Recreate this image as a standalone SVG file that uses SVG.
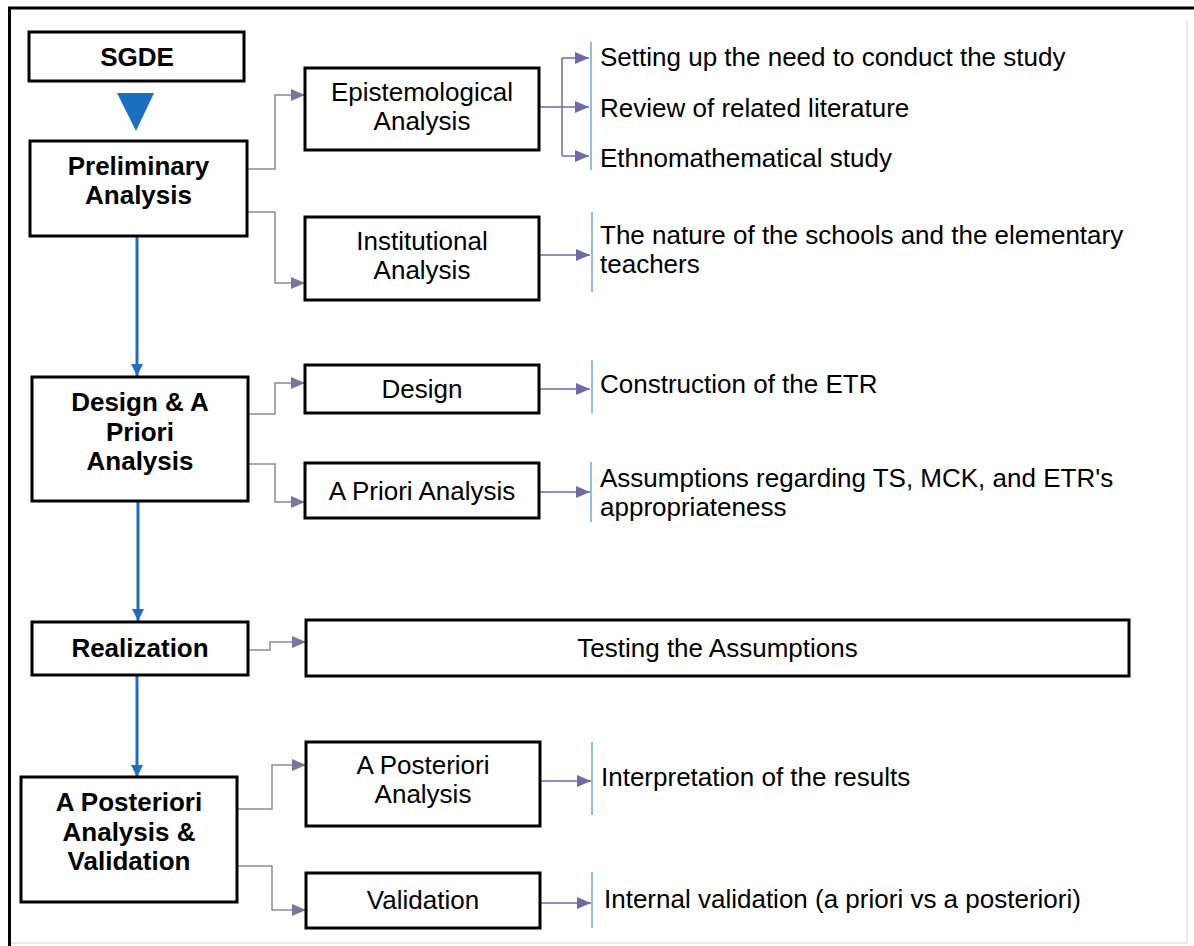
<svg xmlns="http://www.w3.org/2000/svg" width="1194" height="946" viewBox="0 0 1194 946">
<style>
.box{fill:#fff;stroke:#000;stroke-width:3}
.b{font-family:"Liberation Sans",Arial,sans-serif;font-weight:bold;font-size:26px;fill:#000;text-anchor:middle}
.n{font-family:"Liberation Sans",Arial,sans-serif;font-size:26px;fill:#000;text-anchor:middle}
.t{font-family:"Liberation Sans",Arial,sans-serif;font-size:26px;fill:#000}
.g{fill:none;stroke:#8c8c8c;stroke-width:1.5}
.p{fill:none;stroke:#6f6aa6;stroke-width:1.5}
.bl{fill:none;stroke:#1f6fbd;stroke-width:3}
.vl{stroke:#5a9ad6;stroke-width:1.3}
</style>
<defs>
<marker id="ag" viewBox="0 0 14 12" refX="14" refY="6" markerWidth="14" markerHeight="12" markerUnits="userSpaceOnUse" orient="auto"><path d="M0,0 L14,6 L0,12 z" fill="#7a7699"/></marker>
<marker id="ap" viewBox="0 0 14 12" refX="14" refY="6" markerWidth="14" markerHeight="12" markerUnits="userSpaceOnUse" orient="auto"><path d="M0,0 L14,6 L0,12 z" fill="#6f6aa6"/></marker>
<marker id="ab" viewBox="0 0 12 12" refX="12" refY="6" markerWidth="12" markerHeight="12" markerUnits="userSpaceOnUse" orient="auto"><path d="M0,0 L12,6 L0,12 z" fill="#1f6fbd"/></marker>
</defs>
<rect width="1194" height="946" fill="#fff"/>
<g id="frame">
<line x1="8" y1="8" x2="1194" y2="8" stroke="#000" stroke-width="3"/>
<line x1="9.5" y1="7" x2="9.5" y2="946" stroke="#000" stroke-width="3"/>
<line x1="1187" y1="20" x2="1187" y2="943" stroke="#e2e2e2" stroke-width="1.5"/>
<line x1="11" y1="943" x2="1187" y2="943" stroke="#e2e2e2" stroke-width="1.5"/>
</g>
<g id="connectors">
<polygon points="117,93 154,93 136,131" fill="#1a6fc0"/>
<path class="bl" d="M137,236 V376" marker-end="url(#ab)"/>
<path class="bl" d="M138,501 V621" marker-end="url(#ab)"/>
<path class="bl" d="M137,675 V777" marker-end="url(#ab)"/>
<path class="g" d="M247,169 H275 V95 H305" marker-end="url(#ag)"/>
<path class="g" d="M247,212 H275 V283 H305" marker-end="url(#ag)"/>
<path class="g" d="M248,414 H275 V383 H305" marker-end="url(#ag)"/>
<path class="g" d="M248,464 H275 V502 H305" marker-end="url(#ag)"/>
<path class="g" d="M248,650 H270 V642 H306" marker-end="url(#ag)"/>
<path class="g" d="M237,809 H272 V765 H306" marker-end="url(#ag)"/>
<path class="g" d="M237,866 H272 V910 H306" marker-end="url(#ag)"/>
<path class="p" d="M539,107 H562 M562,58 V156"/>
<path class="p" d="M562,58 H589" marker-end="url(#ap)"/>
<path class="p" d="M562,107 H589" marker-end="url(#ap)"/>
<path class="p" d="M562,156 H589" marker-end="url(#ap)"/>
<path class="p" d="M539,255 H590" marker-end="url(#ap)"/>
<path class="p" d="M539,389 H590" marker-end="url(#ap)"/>
<path class="p" d="M539,492 H590" marker-end="url(#ap)"/>
<path class="p" d="M541,781 H591" marker-end="url(#ap)"/>
<path class="p" d="M541,903 H591" marker-end="url(#ap)"/>
<line class="vl" x1="591" y1="42" x2="591" y2="170"/>
<line class="vl" x1="592" y1="212" x2="592" y2="292"/>
<line class="vl" x1="592" y1="360" x2="592" y2="413"/>
<line class="vl" x1="591" y1="462" x2="591" y2="522"/>
<line class="vl" x1="592" y1="742" x2="592" y2="815"/>
<line class="vl" x1="592" y1="872" x2="592" y2="928"/>
</g>
<g id="sgde"><rect class="box" x="29" y="32" width="215" height="49"/><text class="b" x="137" y="66">SGDE</text></g>
<g id="preliminary"><rect class="box" x="30" y="141" width="217" height="95"/><text class="b" x="138.5" y="175">Preliminary</text><text class="b" x="138.5" y="204">Analysis</text></g>
<g id="design-apriori"><rect class="box" x="32" y="377" width="216" height="124"/><text class="b" x="140" y="411">Design &amp; A</text><text class="b" x="140" y="441">Priori</text><text class="b" x="140" y="470">Analysis</text></g>
<g id="realization"><rect class="box" x="32" y="622" width="216" height="53"/><text class="b" x="140" y="657">Realization</text></g>
<g id="aposteriori-validation"><rect class="box" x="21" y="777" width="216" height="125"/><text class="b" x="129" y="811">A Posteriori</text><text class="b" x="129" y="841">Analysis &amp;</text><text class="b" x="129" y="870">Validation</text></g>
<g id="epistemological"><rect class="box" x="305" y="68" width="234" height="82"/><text class="n" x="422" y="101">Epistemological</text><text class="n" x="422" y="130">Analysis</text></g>
<g id="institutional"><rect class="box" x="305" y="217" width="234" height="83"/><text class="n" x="422" y="250">Institutional</text><text class="n" x="422" y="279">Analysis</text></g>
<g id="design"><rect class="box" x="305" y="365" width="234" height="48"/><text class="n" x="422" y="398">Design</text></g>
<g id="apriori"><rect class="box" x="305" y="463" width="234" height="55"/><text class="n" x="422" y="500">A Priori Analysis</text></g>
<g id="testing"><rect class="box" x="306" y="620" width="823" height="56"/><text class="n" x="717.5" y="657">Testing the Assumptions</text></g>
<g id="aposteriori"><rect class="box" x="306" y="742" width="234" height="84"/><text class="n" x="423" y="774">A Posteriori</text><text class="n" x="423" y="803">Analysis</text></g>
<g id="validation"><rect class="box" x="306" y="873" width="234" height="55"/><text class="n" x="423" y="909">Validation</text></g>
<g id="out-setting"><text class="t" x="600" y="66">Setting up the need to conduct the study</text></g>
<g id="out-review"><text class="t" x="600" y="117">Review of related literature</text></g>
<g id="out-ethno"><text class="t" x="600" y="167">Ethnomathematical study</text></g>
<g id="out-nature"><text class="t" x="600" y="244">The nature of the schools and the elementary</text><text class="t" x="600" y="273">teachers</text></g>
<g id="out-construction"><text class="t" x="600" y="393">Construction of the ETR</text></g>
<g id="out-assumptions"><text class="t" x="600" y="487">Assumptions regarding TS, MCK, and ETR's</text><text class="t" x="600" y="516">appropriateness</text></g>
<g id="out-interpretation"><text class="t" x="601" y="786">Interpretation of the results</text></g>
<g id="out-internal"><text class="t" x="604" y="908">Internal validation (a priori vs a posteriori)</text></g>
</svg>
